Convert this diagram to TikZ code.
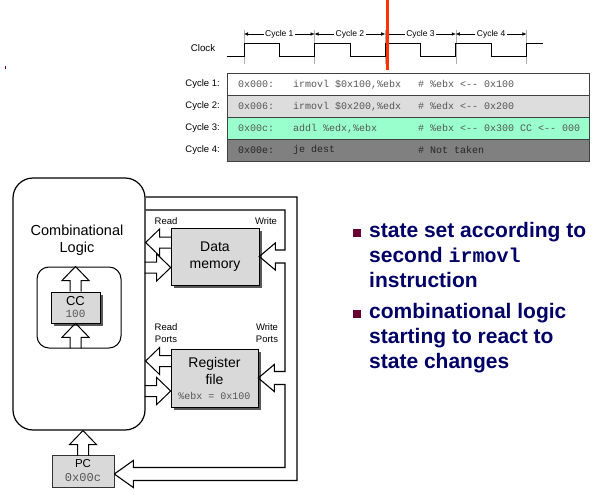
\documentclass[tikz,border=0pt]{standalone}
\usepackage{fontspec}
\setmainfont{Liberation Sans}
\setmonofont{Liberation Mono}
\usepackage{tikz}
\usetikzlibrary{arrows.meta,positioning,calc,shadows}
\definecolor{cTick}{RGB}{175,175,175}
\definecolor{cRed}{RGB}{255,51,0}
\definecolor{cBox}{RGB}{217,217,217}
\definecolor{cRowGray}{RGB}{221,221,221}
\definecolor{cRowGreen}{RGB}{153,255,204}
\definecolor{cRowDark}{RGB}{128,128,128}
\definecolor{cNavy}{RGB}{0,0,102}
\definecolor{cMaroon}{RGB}{102,0,51}
\definecolor{cCode}{RGB}{85,85,85}
\tikzset{
  lbl/.style={inner sep=0pt,font=\fontsize{9.5}{11}\selectfont},
  cyclbl/.style={fill=white,inner sep=1.5pt,font=\fontsize{8.5}{10}\selectfont},
  clkline/.style={line width=0.8pt},
  tickline/.style={cTick,line width=0.5pt},
  cycarr/.style={{Latex[length=4pt,width=3.5pt]}-{Latex[length=4pt,width=3.5pt]},line width=0.5pt},
  rowbox/.style={rectangle,draw=black!75,line width=0.6pt,anchor=north west,
                 minimum width=362,minimum height=22,inner sep=0pt},
  codetxt/.style={anchor=west,inner sep=0pt,text=cCode,
                  font=\fontsize{10}{12}\selectfont\ttfamily},
  combbox/.style={rectangle,draw=black,line width=1.2pt,rounded corners=20pt,
                  minimum width=132,minimum height=252},
  ccarea/.style={rectangle,draw=black,line width=1pt,rounded corners=12pt,
                 minimum width=84,minimum height=81},
  statebox/.style={rectangle,draw=black,line width=0.6pt,fill=cBox,align=center,
                   inner sep=0pt,drop shadow={shadow xshift=2.5pt,shadow yshift=-2.5pt,
                   fill=black!65,opacity=1}},
  plainstate/.style={rectangle,draw=black!80,line width=0.6pt,fill=cBox,align=center,
                     inner sep=0pt},
  hollowline/.style={line width=1pt,line join=miter},
  busline/.style={line width=1.1pt},
  bullettxt/.style={anchor=north west,inner sep=0pt,align=left,text=cNavy,
                    font=\fontsize{21}{25}\selectfont\bfseries},
  bulletsq/.style={rectangle,fill=cMaroon,minimum size=8.5,inner sep=0pt},
  pics/hollow/.style={code={
    \draw[hollowline] (#1,-5.5) -- (14,-5.5) -- (14,-13.5) -- (0,0)
      -- (14,13.5) -- (14,5.5) -- (#1,5.5);}}
}
\newcommand{\codesz}[1]{\fontsize{#1}{#1}\selectfont\ttfamily}

\begin{document}
\begin{tikzpicture}[x=1pt,y=-1pt]
  \useasboundingbox (0,0) rectangle (592,495);

  % clock and cycles
  \node[lbl,font=\fontsize{9.7}{11}\selectfont] (clk) at (203,48) {Clock};
  \foreach \e in {244,314.6,385.2,455.8,526.4}
    \draw[tickline] (\e,30) -- (\e,64);
  \draw[clkline] (227,56)
    \foreach \e in {244,314.6,385.2,455.8} {
      -- (\e,56) -- (\e,43) -- (\e+35.3,43) -- (\e+35.3,56) }
    -- (526.4,56) -- (526.4,43) -- (543,43);
  \foreach \e/\n in {244/1,314.6/2,385.2/3,455.8/4}
    \draw[cycarr] (\e,34) -- (\e+70.6,34) node[cyclbl,midway] (cyc\n) {Cycle \n};
  \draw[cRed,line width=3pt] (387,0) -- (387,70);
  \fill[cMaroon] (4.5,66) rectangle (6,69.5);

  % instruction table
  \foreach \i/\f in {1/white,2/cRowGray,3/cRowGreen,4/cRowDark} {
    \node[rowbox,fill=\f] (row\i) at (227,{73+22*(\i-1)}) {};
    \node[lbl,anchor=east] (cl\i) at ($(row\i.west)+(-7,0)$) {Cycle \i:};
  }
  \node[codetxt] (a1) at ($(row1.west)+(11,0)$) {0x000:};
  \node[codetxt] (i1) at ($(row1.west)+(66,0)$) {irmovl \$0x100,\%ebx};
  \node[codetxt] (c1) at ($(row1.west)+(191,0)$) {\# \%ebx <-{}- 0x100};
  \node[codetxt] (a2) at ($(row2.west)+(11,0)$) {0x006:};
  \node[codetxt] (i2) at ($(row2.west)+(66,0)$) {irmovl \$0x200,\%edx};
  \node[codetxt] (c2) at ($(row2.west)+(191,0)$) {\# \%edx <-{}- 0x200};
  \node[codetxt] (a3) at ($(row3.west)+(11,0)$) {0x00c:};
  \node[codetxt] (i3) at ($(row3.west)+(66,0)$) {addl \%edx,\%ebx};
  \node[codetxt] (c3) at ($(row3.west)+(191,0)$) {\# \%ebx <-{}- 0x300 CC <-{}- 000};
  \node[codetxt,text=black!85] (a4) at ($(row4.west)+(11,0)$) {0x00e:};
  \node[codetxt,text=black!85] (i4) at ($(row4.west)+(66,0)$) {je dest};
  \node[codetxt,text=black!85] (c4) at ($(row4.west)+(191,0)$) {\# Not taken};

  % processor state
  \node[combbox] (comb) at (79,304) {};
  \node[align=center,inner sep=0pt,font=\fontsize{14.5}{16.5}\selectfont] (comblbl)
      at (77,240) {Combinational\\Logic};
  \node[ccarea] (ccarea) at (79,307.5) {};
  \node[statebox,minimum width=49,minimum height=31,
        font=\fontsize{13}{13}\selectfont] (cc) at (75.5,307.5)
      {CC\\[-1pt]{\codesz{11}\color{cCode}100}};
  \node[statebox,minimum width=88,minimum height=57,
        font=\fontsize{14}{17}\selectfont] (dmem) at (215,256.5) {Data\\memory};
  \node[statebox,minimum width=87,minimum height=58,
        font=\fontsize{14}{17.5}\selectfont] (reg) at (214.5,378)
      {Register\\file\\[-3pt]{\codesz{10}\color{cCode}\%ebx = 0x100}};
  \node[plainstate,minimum width=62,minimum height=32,
        font=\fontsize{11.5}{14}\selectfont] (pc) at (83,471)
      {PC\\{\codesz{12}\color{cCode}0x00c}};

  \node[lbl] (dmread) at (166,221) {Read};
  \node[lbl] (dmwrite) at (266,221) {Write};
  \node[lbl,align=center,font=\fontsize{9.5}{12}\selectfont] (rgread) at (166,333) {Read\\Ports};
  \node[lbl,align=center,font=\fontsize{9.5}{12}\selectfont] (rgwrite) at (267,333) {Write\\Ports};

  % hollow arrows
  \pic at ($(comb.east |- dmem.west)+(0,-14)$) {hollow=26};
  \pic[rotate=180] at ($(dmem.west)+(0,11)$) {hollow=26};
  \pic at ($(comb.east |- reg.west)+(0,-17)$) {hollow=26};
  \pic[rotate=180] at ($(reg.west)+(0,13)$) {hollow=26};
  \pic[rotate=-90] at (cc.north |- ccarea.north) {hollow=25};
  \pic[rotate=-90] at (cc.south) {hollow=25};
  \pic[rotate=-90] at (pc.north |- comb.south) {hollow=25};

  % write-back bus
  \coordinate (busO) at (297,197);
  \coordinate (busI) at (285,210);
  \coordinate (pctip) at ($(pc.east)+(0,3)$);
  \draw[busline] (comb.east |- busO) -- (busO) |- ($(pctip)+(19,6.5)$)
    -- ($(pctip)+(19,13.5)$) -- (pctip);
  \draw[busline] (comb.east |- busI) -- (busI) |- ($(dmem.east)+(16,-6.5)$)
    -- ($(dmem.east)+(16,-13.5)$) -- (dmem.east) -- ($(dmem.east)+(16,13.5)$)
    -- ($(dmem.east)+(16,6.5)$) -| ($(busI |- reg.east)+(0,-6.5)$)
    -- ($(reg.east)+(16,-6.5)$) -- ($(reg.east)+(16,-13.5)$) -- (reg.east)
    -- ($(reg.east)+(16,13.5)$) -- ($(reg.east)+(16,6.5)$)
    -| ($(busI |- pctip)+(0,-6.5)$) -- ($(pctip)+(19,-6.5)$)
    -- ($(pctip)+(19,-13.5)$) -- (pctip);

  % bullets
  \node[bulletsq] (sq1) at (357,233) {};
  \node[bullettxt] (b1) at (369,222)
      {state set according to\\second {\fontsize{20}{25}\selectfont\ttfamily irmovl}\\instruction};
  \node[bulletsq] (sq2) at (357,314) {};
  \node[bullettxt] (b2) at (369,303)
      {combinational logic\\starting to react to\\state changes};
\end{tikzpicture}
\end{document}
